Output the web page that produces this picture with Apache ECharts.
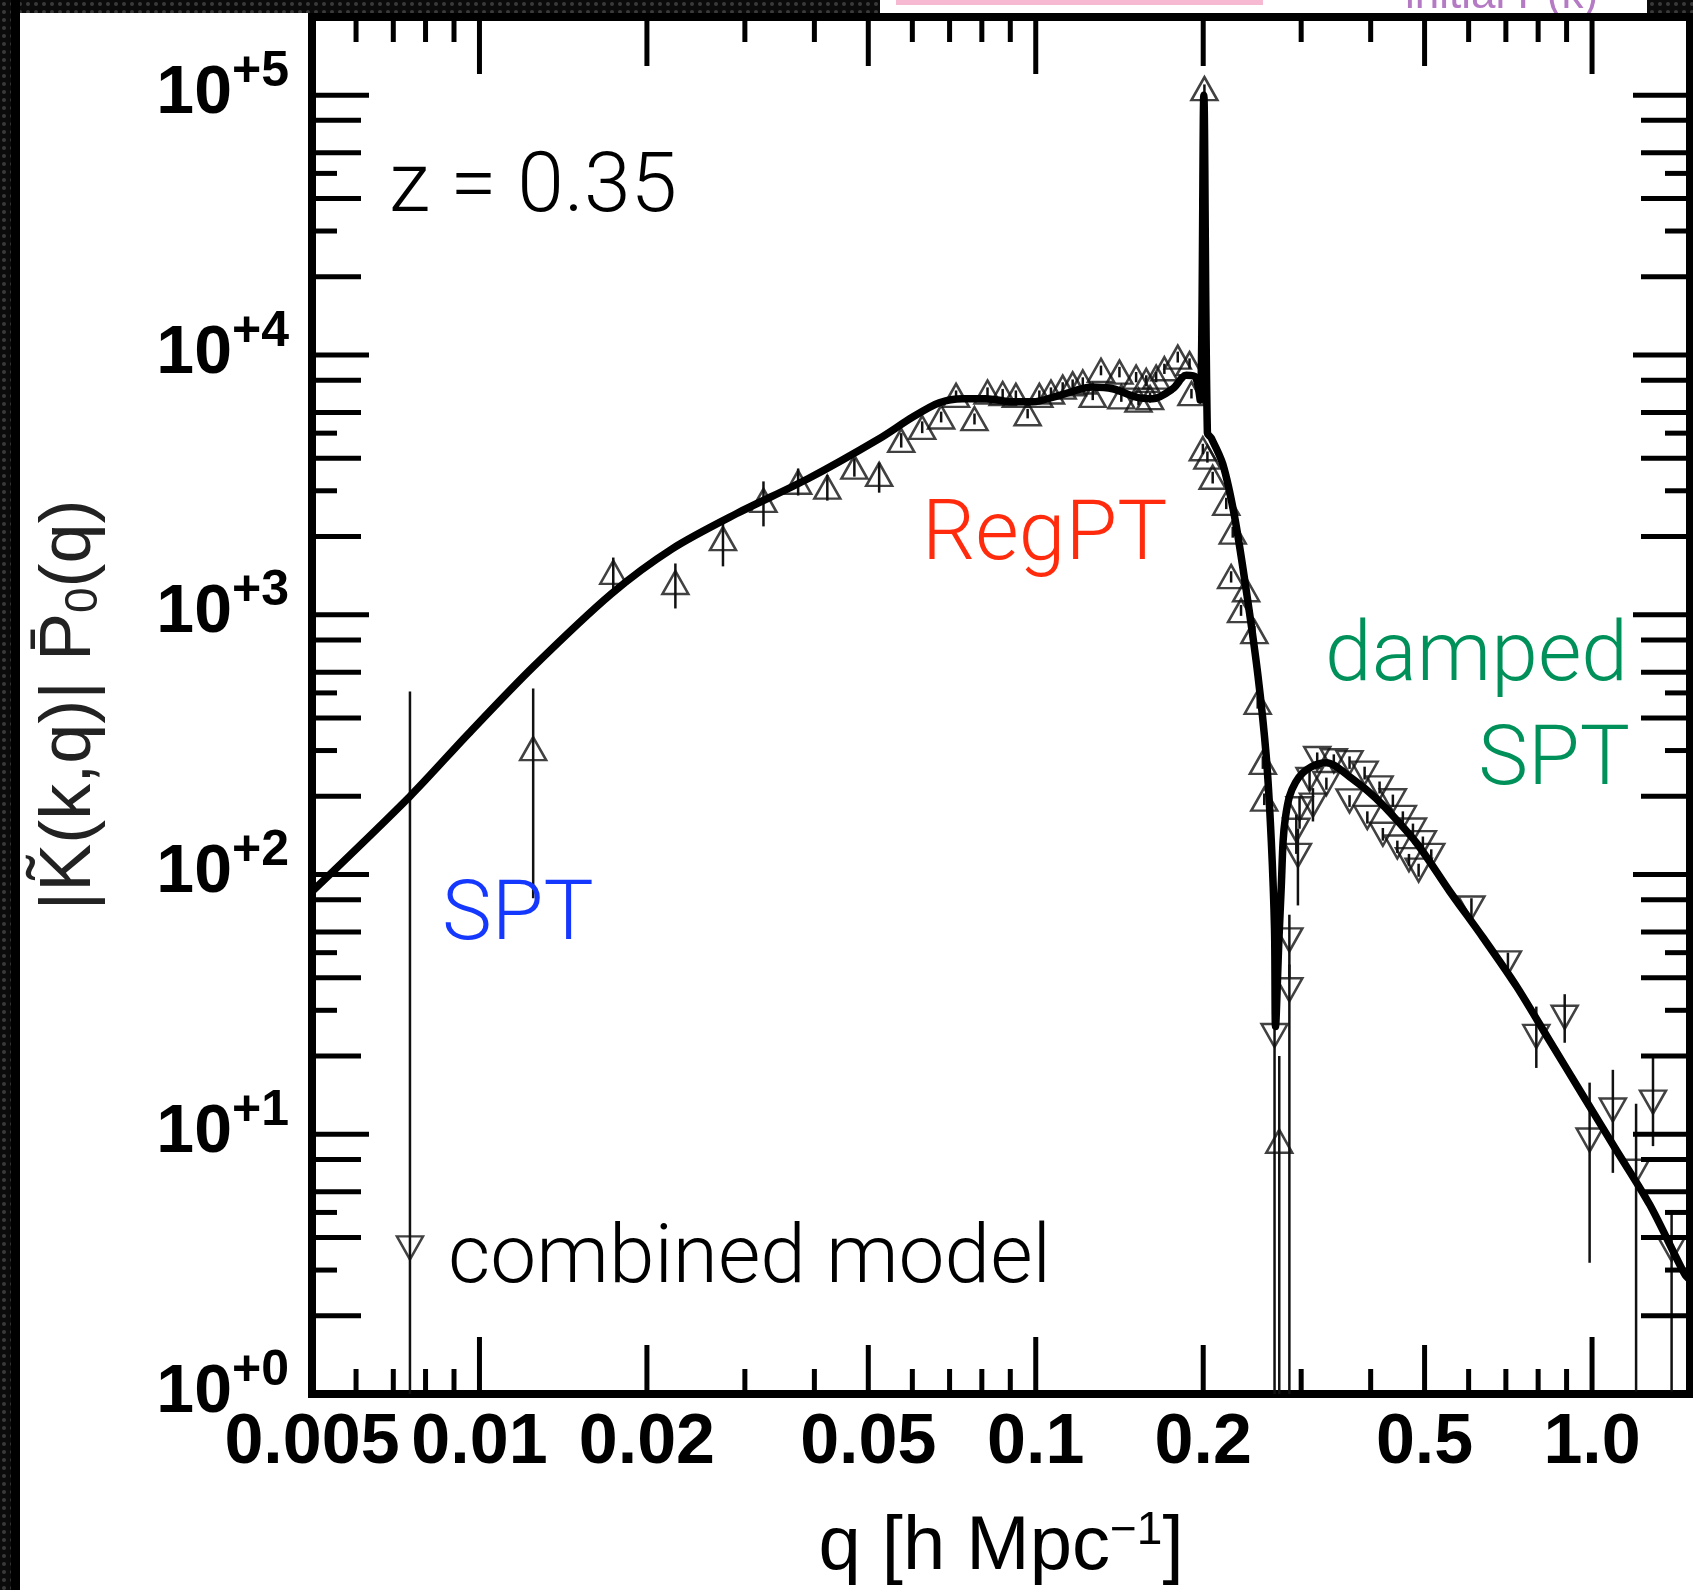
<!DOCTYPE html>
<html>
<head>
<meta charset="utf-8">
<script src="https://cdn.jsdelivr.net/npm/echarts@6/dist/echarts.min.js"></script>
<style>
html,body{margin:0;padding:0;background:#fff;}
#chart{width:1693px;height:1590px;}
</style>
</head>
<body>
<div id="chart"></div>
<script>
// combined model curve |K(k,q)| P0(q)
var curveQ = [0.005, 0.0075, 0.00955, 0.01247, 0.01726, 0.0222, 0.02895, 0.03895, 0.0523, 0.0601, 0.0671, 0.0739, 0.0814, 0.0909, 0.0987, 0.1103, 0.1266, 0.1375, 0.1515, 0.1623, 0.1763, 0.1864, 0.1936, 0.1975, 0.2005, 0.2035, 0.2067, 0.2169, 0.2277, 0.2389, 0.2506, 0.2597, 0.2651, 0.2687, 0.2698, 0.2735, 0.2763, 0.2784, 0.281, 0.2859, 0.293, 0.302, 0.313, 0.3237, 0.333, 0.345, 0.3665, 0.395, 0.4207, 0.483, 0.5546, 0.6366, 0.7309, 0.8389, 0.963, 1.106, 1.27, 1.468, 1.5];
var curveV = [86, 200, 348, 628, 1204, 1794, 2447, 3338, 4760, 5770, 6550, 6787, 6787, 6600, 6600, 6990, 7520, 7410, 6884, 6787, 7410, 8345, 8220, 6700, 100000, 5000, 4793, 3799, 2388, 1248, 594, 283, 134.6, 61, 26, 55, 90, 134.6, 165, 200, 226, 246, 260, 267, 269, 262, 238, 210, 185, 132.6, 86.2, 57.2, 37.2, 22.9, 14.1, 8.68, 5.35, 2.89, 2.75];

// simulation points with positive sign (up triangles)
var posQ  = [0.01249, 0.0174, 0.0225, 0.0274, 0.0324, 0.0374, 0.0422, 0.0472, 0.0523, 0.0573, 0.0625, 0.0676, 0.0719, 0.0776, 0.0819, 0.0872, 0.0921, 0.0967, 0.1015, 0.1065, 0.1118, 0.1165, 0.1215, 0.1266, 0.131, 0.1414, 0.1425, 0.1515, 0.153, 0.158, 0.1605, 0.1646, 0.1703, 0.18, 0.189, 0.1905, 0.1997, 0.201, 0.2035, 0.208, 0.22, 0.2245, 0.226, 0.2339, 0.2389, 0.2472, 0.2506, 0.256, 0.2575, 0.274];
var posV  = [305, 1456, 1330, 1963, 2755, 3236, 3097, 3700, 3470, 4690, 5260, 5770, 6990, 5685, 7200, 7100, 6990, 5940, 6990, 7200, 7520, 7740, 7870, 6990, 8725, 8590, 6900, 8220, 6700, 7980, 6850, 8220, 8850, 9810, 9260, 7100, 4355, 106000, 4045, 3383, 2684, 1402, 2080, 1037, 1248, 861, 460, 270, 195, 9.4];
var posLo = [81, 1240, 1057, 1535, 2188, 2877, 2750, 3400, 2950, 4400, 5000, 5500, 6700, 5400, 6900, 6800, 6700, 5700, 6700, 6900, 7200, 7400, 7550, 6700, 8350, 8200, 6600, 7850, 6400, 7600, 6550, 7850, 8450, 9350, 8850, 6800, 4150, 100000, 3850, 3200, 2550, 1330, 1980, 990, 1190, 820, 435, 255, 185, 1];
var posHi = [520, 1660, 1575, 2265, 3260, 3653, 3450, 4000, 3850, 5000, 5550, 6050, 7300, 5950, 7500, 7400, 7300, 6200, 7300, 7500, 7850, 8050, 8200, 7300, 9100, 9000, 7200, 8600, 7000, 8350, 7150, 8600, 9250, 10300, 9700, 7400, 4550, 110000, 4250, 3550, 2820, 1470, 2180, 1090, 1310, 905, 485, 285, 205, 20];

// simulation points with negative sign (down triangles)
var negQ  = [0.0075, 0.2687, 0.2857, 0.2857, 0.296, 0.294, 0.298, 0.315, 0.3106, 0.3206, 0.3434, 0.3665, 0.3901, 0.415, 0.4385, 0.457, 0.4765, 0.4965, 0.514, 0.333, 0.3665, 0.3945, 0.4207, 0.4467, 0.4687, 0.4878, 0.607, 0.706, 0.794, 0.893, 0.99, 1.09, 1.2, 1.287, 1.39];
var negV  = [3.65, 24, 36, 56, 118.5, 148, 179, 185, 232, 279.6, 274, 269.6, 245.5, 215.5, 192.3, 165.8, 148.3, 132.6, 118.5, 224, 192, 165.8, 142.9, 127.6, 114, 104, 74.3, 45.7, 23.8, 28.2, 9.5, 12.4, 7.2, 13.3, 3.6];
var negLo = [1, 1, 1, 40, 76, 120, 150, 160, 210, 265, 260, 255, 232, 205, 182, 157, 140, 125, 112, 212, 182, 157, 135, 121, 108, 98, 68, 42, 18, 22.5, 3.2, 7.1, 1, 9, 1];
var negHi = [506, 32, 45, 70, 150, 170, 200, 215, 250, 295, 290, 285, 260, 228, 203, 175, 157, 140, 125, 236, 202, 175, 151, 135, 120, 110, 81, 50, 31, 34.6, 15.8, 17.7, 13.1, 20, 5];

// axis ticks and labels
var xMajorTicks  = [0.01, 0.1, 1.0];
var xMediumTicks = [0.02, 0.05, 0.2, 0.5];
var xMinorTicks  = [0.006, 0.007, 0.008, 0.009, 0.03, 0.04, 0.06, 0.07, 0.08, 0.09, 0.3, 0.4, 0.6, 0.7, 0.8, 0.9];
var xLabelVals   = [0.005, 0.01, 0.02, 0.05, 0.1, 0.2, 0.5, 1.0];
var xLabelText   = ['0.005', '0.01', '0.02', '0.05', '0.1', '0.2', '0.5', '1.0'];
var yDecades     = [1, 10, 100, 1000, 10000, 100000];
var yMediumMant  = [2, 4, 6, 8];
var yMinorMant   = [3, 5];

var X_MIN = 0.005, X_MAX = 1.5, Y_MIN = 1, Y_MAX = 200000;
var TICK_LEN = [57, 49, 25];
var FONT = '"Liberation Sans", Arial, Helvetica, sans-serif';
var LIGHT = 'Roboto, "Liberation Sans", Arial, sans-serif';

var xTickData = [];
xMajorTicks.forEach(function (q) { xTickData.push([q, Y_MIN, 0]); });
xMediumTicks.forEach(function (q) { xTickData.push([q, Y_MIN, 1]); });
xMinorTicks.forEach(function (q) { xTickData.push([q, Y_MIN, 2]); });

var yTickData = [];
yDecades.forEach(function (d) {
  yTickData.push([X_MIN, d, 0]);
  yMediumMant.forEach(function (m) { if (m * d < Y_MAX) yTickData.push([X_MIN, m * d, 1]); });
  yMinorMant.forEach(function (m) { if (m * d < Y_MAX) yTickData.push([X_MIN, m * d, 2]); });
});

function pairs(a, b) { return a.map(function (v, i) { return [v, b[i]]; }); }
function triples(a, b, c) { return a.map(function (v, i) { return [v, b[i], c[i]]; }); }

function renderErr(params, api) {
  var q = api.value(0);
  var lo = Math.max(api.value(1), Y_MIN);
  var p1 = api.coord([q, lo]), p2 = api.coord([q, api.value(2)]);
  return {type: 'line', shape: {x1: p1[0], y1: p1[1], x2: p2[0], y2: p2[1]},
    style: {stroke: '#111', lineWidth: 2.5}};
}

function renderXTick(params, api) {
  var cs = params.coordSys;
  var x = api.coord([api.value(0), Y_MIN])[0];
  var len = TICK_LEN[api.value(2)];
  var b = cs.y + cs.height, t = cs.y;
  return {type: 'group', children: [
    {type: 'line', shape: {x1: x, y1: b, x2: x, y2: b - len}, style: {stroke: '#000', lineWidth: 5}},
    {type: 'line', shape: {x1: x, y1: t, x2: x, y2: t + len}, style: {stroke: '#000', lineWidth: 5}}
  ]};
}

function renderYTick(params, api) {
  var cs = params.coordSys;
  var y = api.coord([X_MIN, api.value(1)])[1];
  var len = TICK_LEN[api.value(2)];
  var l = cs.x, r = cs.x + cs.width;
  return {type: 'group', children: [
    {type: 'line', shape: {x1: l, y1: y, x2: l + len, y2: y}, style: {stroke: '#000', lineWidth: 5}},
    {type: 'line', shape: {x1: r, y1: y, x2: r - len, y2: y}, style: {stroke: '#000', lineWidth: 5}}
  ]};
}

function renderXLabel(params, api) {
  var cs = params.coordSys;
  var x = api.coord([api.value(0), Y_MIN])[0];
  return {type: 'text', x: x, y: cs.y + cs.height + 50,
    style: {text: xLabelText[params.dataIndex], fontSize: 70, fontWeight: 'bold', fontFamily: FONT,
      fill: '#000', align: 'center', verticalAlign: 'middle'}};
}

function renderYLabel(params, api) {
  var cs = params.coordSys;
  var v = api.value(1);
  var y = api.coord([X_MIN, v])[1];
  var e = Math.round(Math.log(v) / Math.LN10);
  var xr = cs.x - 80;
  return {type: 'group', children: [
    {type: 'text', x: xr, y: y - 1, style: {text: '10', fontSize: 68, fontWeight: 'bold', fontFamily: FONT,
      fill: '#000', align: 'right', verticalAlign: 'middle'}},
    {type: 'text', x: xr, y: y - 23, style: {text: '+' + e, fontSize: 50, fontWeight: 'bold', fontFamily: FONT,
      fill: '#000', align: 'left', verticalAlign: 'middle'}}
  ]};
}

// dotted dark screen pattern around the slide
var pat = document.createElement('canvas');
pat.width = 8; pat.height = 8;
var pc = pat.getContext('2d');
pc.fillStyle = '#0b0b0b'; pc.fillRect(0, 0, 8, 8);
pc.fillStyle = '#3a3a3a'; pc.beginPath(); pc.arc(4, 4, 2, 0, Math.PI * 2); pc.fill();

function txt(x, y, s, size, color, align, family) {
  return {type: 'text', x: x, y: y, z: 100,
    style: {text: s, fontSize: size, fontFamily: family || LIGHT, fontWeight: 300, fill: color,
      align: align || 'left', verticalAlign: 'middle', textAlign: align || 'left', textVerticalAlign: 'middle'}};
}

var chart = echarts.init(document.getElementById('chart'));
chart.setOption({
  animation: false,
  backgroundColor: '#fff',
  grid: {left: 312, top: 17, width: 1378, height: 1377, show: true, borderColor: '#000', borderWidth: 8,
    backgroundColor: 'transparent'},
  xAxis: {type: 'log', logBase: 10, min: X_MIN, max: X_MAX,
    axisLine: {show: false}, axisTick: {show: false}, axisLabel: {show: false}, splitLine: {show: false}},
  yAxis: {type: 'log', logBase: 10, min: Y_MIN, max: Y_MAX,
    axisLine: {show: false}, axisTick: {show: false}, axisLabel: {show: false}, splitLine: {show: false}},
  graphic: [
    {type: 'rect', shape: {x: 0, y: 0, width: 1693, height: 13}, style: {fill: {image: pat, repeat: 'repeat'}}, z: 90},
    {type: 'rect', shape: {x: 0, y: 0, width: 11, height: 1590}, style: {fill: {image: pat, repeat: 'repeat'}}, z: 90},
    {type: 'rect', shape: {x: 11, y: 0, width: 9, height: 1590}, style: {fill: '#000'}, z: 91},
    {type: 'rect', shape: {x: 880, y: 0, width: 767, height: 13}, style: {fill: '#fff'}, z: 92},
    {type: 'rect', shape: {x: 896, y: 0, width: 367, height: 5}, style: {fill: '#f7b8d2'}, z: 93},
    {type: 'text', x: 1405, y: -4, z: 93, style: {text: 'initial P(k)', fontSize: 44, fontFamily: FONT, fill: '#b57ac4',
      align: 'left', verticalAlign: 'middle', textAlign: 'left', textVerticalAlign: 'middle'}},
    {type: 'rect', shape: {x: 880, y: 13, width: 813, height: 8}, style: {fill: '#000'}, z: 94},
    txt(389, 190, 'z = 0.35', 84, '#000'),
    txt(922, 538, 'RegPT', 84, '#ff2b0c'),
    txt(1628, 659, 'damped', 84, '#00915a', 'right'),
    txt(1630, 763, 'SPT', 84, '#00915a', 'right'),
    txt(442, 918, 'SPT', 84, '#1538ff'),
    txt(448, 1261, 'combined model', 82, '#000'),
    {type: 'text', x: 1001, y: 1548, z: 100,
      style: {text: 'q [h Mpc{s|\u22121}]', fontSize: 76, fontFamily: FONT, fill: '#000',
        align: 'center', verticalAlign: 'middle', textAlign: 'center', textVerticalAlign: 'middle',
        rich: {s: {fontSize: 46, fontFamily: FONT, fill: '#000', padding: [0, 0, 34, 0]}}}},
    {type: 'text', x: 70, y: 705, rotation: Math.PI / 2, z: 100,
      style: {text: '|K\u0303(k,q)| P\u0304{sub|0}(q)', fontSize: 72, fontFamily: FONT, fill: '#222',
        align: 'center', verticalAlign: 'middle', textAlign: 'center', textVerticalAlign: 'middle',
        rich: {sub: {fontSize: 46, fontFamily: FONT, fill: '#222', padding: [28, 0, 0, 0]}}}}
  ],
  series: [
    {type: 'custom', name: 'err+', renderItem: renderErr, data: triples(posQ, posLo, posHi),
      encode: {x: 0, y: [1, 2]}, z: 2, silent: true, clip: true},
    {type: 'custom', name: 'err-', renderItem: renderErr, data: triples(negQ, negLo, negHi),
      encode: {x: 0, y: [1, 2]}, z: 2, silent: true, clip: true},
    {type: 'scatter', name: 'positive', data: pairs(posQ, posV), symbol: 'triangle', symbolSize: [26, 23],
      itemStyle: {color: 'rgba(255,255,255,0)', borderColor: '#111', borderWidth: 2.5}, z: 3, silent: true},
    {type: 'scatter', name: 'negative', data: pairs(negQ, negV), symbol: 'triangle', symbolSize: [26, 23],
      symbolRotate: 180,
      itemStyle: {color: 'rgba(255,255,255,0)', borderColor: '#111', borderWidth: 2.5}, z: 3, silent: true},
    {type: 'line', name: 'combined model', data: pairs(curveQ, curveV), showSymbol: false, symbol: 'none',
      smooth: 0.3,
      lineStyle: {color: '#000', width: 7.5, join: 'round'}, z: 4, silent: true},
    {type: 'custom', renderItem: renderXTick, data: xTickData, encode: {x: 0, y: 1}, z: 5, silent: true, clip: false},
    {type: 'custom', renderItem: renderYTick, data: yTickData, encode: {x: 0, y: 1}, z: 5, silent: true, clip: false},
    {type: 'custom', renderItem: renderXLabel, data: pairs(xLabelVals, xLabelVals.map(function () { return Y_MIN; })),
      encode: {x: 0, y: 1}, z: 6, silent: true, clip: false},
    {type: 'custom', renderItem: renderYLabel, data: yDecades.map(function (d) { return [X_MIN, d]; }),
      encode: {x: 0, y: 1}, z: 6, silent: true, clip: false}
  ]
});
</script>
</body>
</html>
